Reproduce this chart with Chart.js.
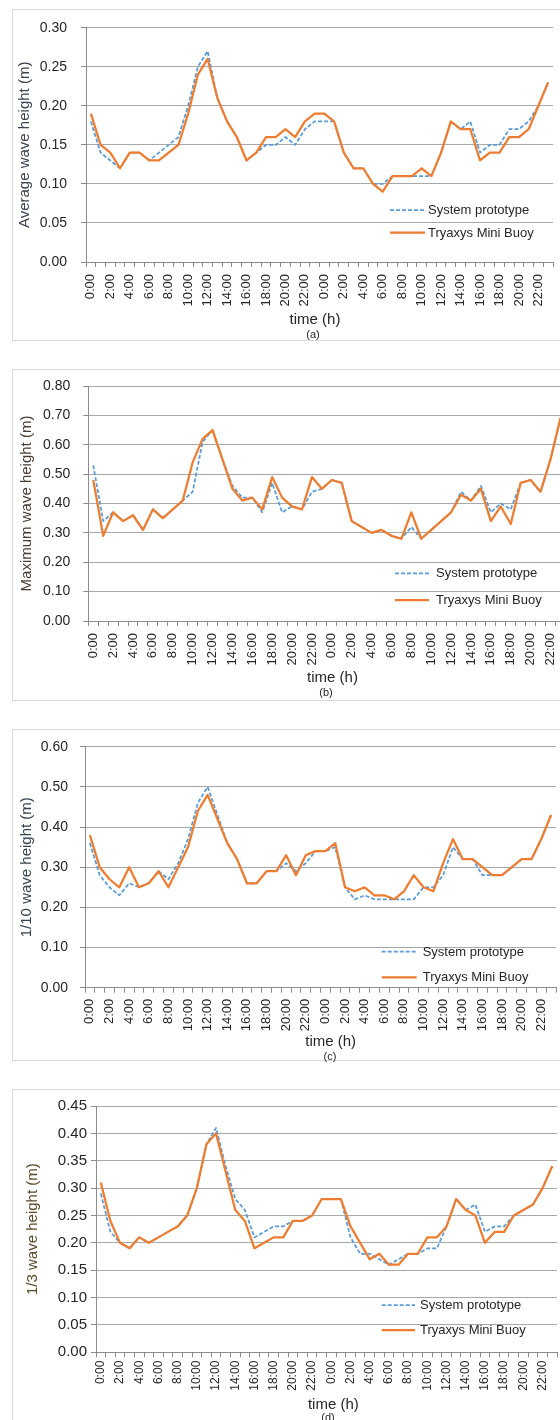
<!DOCTYPE html>
<html>
<head>
<meta charset="utf-8">
<script src="https://cdn.jsdelivr.net/npm/chart.js@4.4.0/dist/chart.umd.min.js"></script>
<style>
  html, body { margin: 0; padding: 0; background: #fff; }
  body { width: 560px; height: 1420px; overflow: hidden; position: relative; }
  .frame { position: absolute; left: 12px; width: 620px; height: 332px; border: 1px solid #d9d9d9; box-sizing: border-box; }
  .panel { position: absolute; left: 0; width: 580px; height: 360px; }
  .panel canvas { position: absolute; left: 0; top: 0; }
</style>
</head>
<body>
<div class="frame" style="top:9px"></div>
<div class="frame" style="top:369px"></div>
<div class="frame" style="top:729px"></div>
<div class="frame" style="top:1089px"></div>
<div class="panel" style="top:0px"><canvas id="chartA" width="580" height="360"></canvas></div>
<div class="panel" style="top:360px"><canvas id="chartB" width="580" height="360"></canvas></div>
<div class="panel" style="top:720px"><canvas id="chartC" width="580" height="360"></canvas></div>
<div class="panel" style="top:1080px"><canvas id="chartD" width="580" height="360"></canvas></div>
<script>
// Hourly samples over two days (48 categories); every second hour is labelled.
const hours = [
  '0:00','1:00','2:00','3:00','4:00','5:00','6:00','7:00','8:00','9:00','10:00','11:00',
  '12:00','13:00','14:00','15:00','16:00','17:00','18:00','19:00','20:00','21:00','22:00','23:00',
  '0:00','1:00','2:00','3:00','4:00','5:00','6:00','7:00','8:00','9:00','10:00','11:00',
  '12:00','13:00','14:00','15:00','16:00','17:00','18:00','19:00','20:00','21:00','22:00','23:00'
];
const seriesNames = ['System prototype', 'Tryaxys Mini Buoy'];

// (a) Average wave height (m)
const avgPrototype = [0.18,0.14,0.13,0.12,0.14,0.14,0.13,0.14,0.15,0.16,0.20,0.25,0.27,0.21,0.18,0.16,0.13,0.14,0.15,0.15,0.16,0.15,0.17,0.18,
                      0.18,0.18,0.14,0.12,0.12,0.10,0.10,0.11,0.11,0.11,0.11,0.11,0.14,0.18,0.17,0.18,0.14,0.15,0.15,0.17,0.17,0.18,0.20,0.23];
const avgBuoy      = [0.19,0.15,0.14,0.12,0.14,0.14,0.13,0.13,0.14,0.15,0.19,0.24,0.26,0.21,0.18,0.16,0.13,0.14,0.16,0.16,0.17,0.16,0.18,0.19,
                      0.19,0.18,0.14,0.12,0.12,0.10,0.09,0.11,0.11,0.11,0.12,0.11,0.14,0.18,0.17,0.17,0.13,0.14,0.14,0.16,0.16,0.17,0.20,0.23];

// (b) Maximum wave height (m)
const maxPrototype = [0.53,0.34,0.37,0.34,0.36,0.31,0.38,0.35,0.38,0.41,0.44,0.61,0.65,0.55,0.46,0.42,0.42,0.37,0.47,0.37,0.39,0.38,0.44,0.45,
                      0.48,0.47,0.34,0.32,0.30,0.31,0.29,0.28,0.32,0.28,0.31,0.34,0.37,0.44,0.41,0.46,0.37,0.40,0.38,0.47,0.48,0.44,0.55,0.69];
const maxBuoy      = [0.48,0.29,0.37,0.34,0.36,0.31,0.38,0.35,0.38,0.41,0.54,0.62,0.65,0.55,0.45,0.41,0.42,0.38,0.49,0.42,0.39,0.38,0.49,0.45,
                      0.48,0.47,0.34,0.32,0.30,0.31,0.29,0.28,0.37,0.28,0.31,0.34,0.37,0.43,0.41,0.45,0.34,0.39,0.33,0.47,0.48,0.44,0.55,0.69];

// (c) 1/10 wave height (m)
const tenthPrototype = [0.36,0.28,0.25,0.23,0.26,0.25,0.26,0.29,0.27,0.31,0.37,0.46,0.50,0.43,0.36,0.32,0.26,0.26,0.29,0.29,0.31,0.29,0.31,0.34,
                        0.34,0.35,0.25,0.22,0.23,0.22,0.22,0.22,0.22,0.22,0.25,0.25,0.28,0.35,0.32,0.32,0.28,0.28,0.28,0.30,0.32,0.32,0.37,0.43];
const tenthBuoy      = [0.38,0.30,0.27,0.25,0.30,0.25,0.26,0.29,0.25,0.30,0.35,0.44,0.48,0.42,0.36,0.32,0.26,0.26,0.29,0.29,0.33,0.28,0.33,0.34,
                        0.34,0.36,0.25,0.24,0.25,0.23,0.23,0.22,0.24,0.28,0.25,0.24,0.31,0.37,0.32,0.32,0.30,0.28,0.28,0.30,0.32,0.32,0.37,0.43];

// (d) 1/3 wave height (m)
const thirdPrototype = [0.29,0.22,0.20,0.19,0.21,0.20,0.21,0.22,0.23,0.25,0.30,0.38,0.41,0.34,0.28,0.26,0.21,0.22,0.23,0.23,0.24,0.24,0.25,0.28,
                        0.28,0.28,0.21,0.18,0.18,0.17,0.16,0.17,0.18,0.18,0.19,0.19,0.23,0.28,0.26,0.27,0.22,0.23,0.23,0.25,0.26,0.27,0.30,0.34];
const thirdBuoy      = [0.31,0.24,0.20,0.19,0.21,0.20,0.21,0.22,0.23,0.25,0.30,0.38,0.40,0.33,0.26,0.24,0.19,0.20,0.21,0.21,0.24,0.24,0.25,0.28,
                        0.28,0.28,0.23,0.20,0.17,0.18,0.16,0.16,0.18,0.18,0.21,0.21,0.23,0.28,0.26,0.25,0.20,0.22,0.22,0.25,0.26,0.27,0.30,0.34];

const FONT = "'Liberation Sans', Arial, sans-serif";
const TEXT = '#262626';
const GRID = '#a8a8a8';
const AXIS = '#8c8c8c';
const BLUE = '#5B9BD5';
const ORANGE = '#ED7D31';
const CANVAS_W = 580, CANVAS_H = 360;

// Two-row series key drawn inside the plot, using each dataset's own line style.
const seriesKey = {
  id: 'seriesKey',
  afterDraw(chart, args, o) {
    const ctx = chart.ctx;
    chart.data.datasets.forEach((ds, k) => {
      const y = o.rows[k];
      ctx.save();
      ctx.strokeStyle = ds.borderColor;
      ctx.lineWidth = ds.borderWidth;
      ctx.setLineDash(ds.borderDash || []);
      ctx.beginPath();
      ctx.moveTo(o.x0, y);
      ctx.lineTo(o.x1, y);
      ctx.stroke();
      ctx.setLineDash([]);
      ctx.fillStyle = TEXT;
      ctx.font = '13px ' + FONT;
      ctx.textAlign = 'left';
      ctx.textBaseline = 'middle';
      ctx.fillText(ds.label, o.tx, y + 0.5);
      ctx.restore();
    });
  }
};

// Axis caption under the time labels plus the panel letter.
const caption = {
  id: 'caption',
  afterDraw(chart, args, o) {
    const ctx = chart.ctx;
    ctx.save();
    ctx.fillStyle = TEXT;
    ctx.textAlign = 'center';
    ctx.textBaseline = 'middle';
    ctx.font = '15px ' + FONT;
    ctx.fillText(o.title, o.tx, o.ty);
    ctx.font = '11px ' + FONT;
    ctx.fillText(o.letter, o.lx, o.ly);
    ctx.restore();
  }
};

function buildChart(id, proto, buoy, p) {
  return new Chart(document.getElementById(id), {
    type: 'line',
    data: {
      labels: hours,
      datasets: [
        { label: seriesNames[0], data: proto, borderColor: BLUE, backgroundColor: BLUE,
          borderWidth: 1.75, borderDash: [4, 2], order: 1 },
        { label: seriesNames[1], data: buoy, borderColor: ORANGE, backgroundColor: ORANGE,
          borderWidth: 2.25, order: 0 }
      ]
    },
    plugins: [seriesKey, caption],
    options: {
      responsive: false,
      animation: false,
      devicePixelRatio: 1,
      layout: { padding: { top: p.top, right: CANVAS_W - p.right, bottom: 0, left: 0 } },
      elements: { point: { radius: 0 }, line: { tension: 0, borderCapStyle: 'butt', borderJoinStyle: 'round' } },
      plugins: {
        legend: { display: false },
        tooltip: { enabled: false },
        seriesKey: p.key,
        caption: p.caption
      },
      scales: {
        x: {
          type: 'category',
          offset: true,
          grid: { offset: true, drawOnChartArea: false, drawTicks: true, tickLength: 5, color: AXIS },
          border: { display: true, color: AXIS, width: 1 },
          ticks: {
            autoSkip: false, minRotation: 90, maxRotation: 90, padding: p.xpad,
            color: TEXT, font: { family: FONT, size: p.xfont },
            callback: (v, i) => (i % 2 === 0 ? hours[i] : '')
          },
          afterFit: s => { s.height = CANVAS_H - p.bottom; s.paddingLeft = 0; s.paddingRight = 0; }
        },
        y: {
          min: 0, max: p.max,
          ticks: {
            stepSize: p.step, padding: p.ypad, color: TEXT,
            font: { family: FONT, size: p.yfont },
            callback: v => Number(v).toFixed(2)
          },
          grid: { color: GRID, tickColor: AXIS, tickLength: 5, drawTicks: true },
          border: { display: true, color: AXIS, width: 1 },
          title: {
            display: true, text: p.ytitle, color: p.tcolor,
            font: { family: FONT, size: 15 }, padding: { top: p.tpad, bottom: 0 }
          },
          afterFit: s => { s.width = p.left; s.paddingTop = 0; s.paddingBottom = 0; }
        }
      }
    }
  });
}

buildChart('chartA', avgPrototype, avgBuoy, {
  left: 86, right: 553, top: 27.7, bottom: 262, max: 0.30, step: 0.05,
  ypad: 14, xpad: 7, tpad: 16, yfont: 14, xfont: 13, tcolor: '#3b4350',
  ytitle: 'Average wave height (m)',
  key: { x0: 390, x1: 425, tx: 428, rows: [210, 232.7] },
  caption: { title: 'time (h)', tx: 315, ty: 320, letter: '(a)', lx: 313, ly: 335 }
});
buildChart('chartB', maxPrototype, maxBuoy, {
  left: 88.3, right: 565.4, top: 26, bottom: 261, max: 0.80, step: 0.10,
  ypad: 13, xpad: 7, tpad: 17.7, yfont: 14, xfont: 13, tcolor: '#4a3b30',
  ytitle: 'Maximum wave height (m)',
  key: { x0: 395, x1: 429, tx: 436, rows: [213.3, 240] },
  caption: { title: 'time (h)', tx: 332.5, ty: 318, letter: '(b)', lx: 326, ly: 333.3 }
});
buildChart('chartC', tenthPrototype, tenthBuoy, {
  left: 85, right: 556, top: 26.7, bottom: 267.7, max: 0.60, step: 0.10,
  ypad: 12, xpad: 6, tpad: 17.7, yfont: 14, xfont: 13, tcolor: '#33434f',
  ytitle: '1/10 wave height (m)',
  key: { x0: 381.7, x1: 416.7, tx: 422.7, rows: [231.7, 257.3] },
  caption: { title: 'time (h)', tx: 330.7, ty: 321.7, letter: '(c)', lx: 330, ly: 336.7 }
});
buildChart('chartD', thirdPrototype, thirdBuoy, {
  left: 96, right: 557, top: 26, bottom: 272.3, max: 0.45, step: 0.05,
  ypad: 4, xpad: 3.4, tpad: 24.3, yfont: 15, xfont: 12, tcolor: '#5a4a28',
  ytitle: '1/3 wave height (m)',
  key: { x0: 381.7, x1: 415, tx: 420, rows: [225, 250] },
  caption: { title: 'time (h)', tx: 333.3, ty: 325, letter: '(d)', lx: 328, ly: 338 }
});
</script>
</body>
</html>
